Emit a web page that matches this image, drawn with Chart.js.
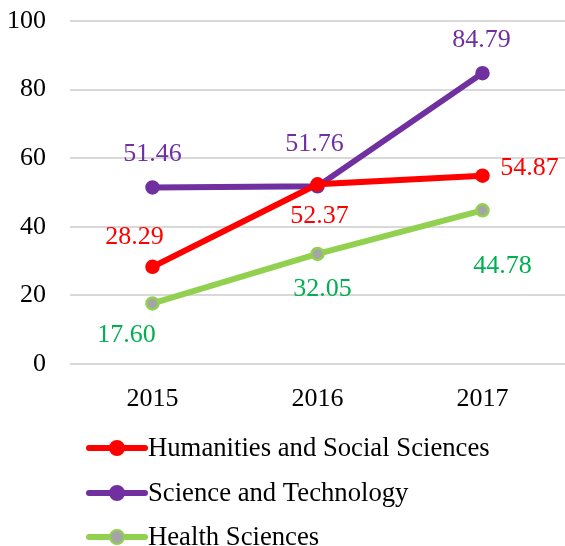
<!DOCTYPE html>
<html><head><meta charset="utf-8">
<script src="https://cdn.jsdelivr.net/npm/chart.js@4/dist/chart.umd.min.js"></script>
<style>html,body{margin:0;padding:0;background:#fff;}#wrap{width:565px;height:546px;}</style>
</head><body><div id="wrap"><canvas id="c" width="565" height="546"></canvas></div>
<script>
const categories = ["2015", "2016", "2017"];
const seriesNames = ["Humanities and Social Sciences", "Science and Technology", "Health Sciences"];
const humanities = [28.29, 52.37, 54.87];
const science = [51.46, 51.76, 84.79];
const health = [17.60, 32.05, 44.78];
const yTicks = [0, 20, 40, 60, 80, 100];

const FONT = "'Liberation Serif', 'Times New Roman', serif";
// label offsets (dx, dy) from each point, in pixels (style only)
const labelOffsets = [
  [[-18, -30], [2, 32], [47, -8]],
  [[0, -33], [-3, -42], [-1, -33]],
  [[-26, 32], [5, 35], [20, 56]]
];
const labelColors = ['#FF0000', '#7030A0', '#00B050'];

const labelPlugin = {
  id: 'labels',
  afterDatasetsDraw(chart) {
    const ctx = chart.ctx;
    ctx.save();
    ctx.font = '26px ' + FONT;
    ctx.textAlign = 'center';
    ctx.textBaseline = 'middle';
    chart.data.datasets.forEach((ds, i) => {
      const meta = chart.getDatasetMeta(i);
      meta.data.forEach((pt, j) => {
        const txt = ds.data[j].toFixed(2);
        const o = labelOffsets[i][j];
        ctx.fillStyle = labelColors[i];
        ctx.fillText(txt, pt.x + o[0], pt.y + o[1]);
      });
    });
    ctx.restore();
  }
};

const legendPlugin = {
  id: 'customLegend',
  afterDraw(chart) {
    const ctx = chart.ctx;
    ctx.save();
    const x0 = 89, x1 = 145, ys = [448, 493, 537];
    chart.data.datasets.forEach((ds, i) => {
      const y = ys[i];
      ctx.strokeStyle = ds.borderColor;
      ctx.lineWidth = 6;
      ctx.lineCap = 'round';
      ctx.beginPath(); ctx.moveTo(x0, y); ctx.lineTo(x1, y); ctx.stroke();
      ctx.beginPath(); ctx.arc((x0 + x1) / 2, y, 7, 0, Math.PI * 2);
      ctx.fillStyle = ds.pointBackgroundColor; ctx.fill();
      ctx.lineWidth = 2; ctx.strokeStyle = ds.pointBorderColor; ctx.stroke();
      ctx.fillStyle = '#000';
      ctx.font = '26.7px ' + FONT;
      ctx.textAlign = 'left'; ctx.textBaseline = 'middle';
      ctx.fillText(ds.label, 148, y + 1);
    });
    ctx.restore();
  }
};

new Chart(document.getElementById('c'), {
  type: 'line',
  data: {
    labels: categories,
    datasets: [
      { label: seriesNames[0], data: humanities, borderColor: '#FF0000', backgroundColor: '#FF0000',
        pointBackgroundColor: '#FF0000', pointBorderColor: '#FF0000' },
      { label: seriesNames[1], data: science, borderColor: '#7030A0', backgroundColor: '#7030A0',
        pointBackgroundColor: '#7030A0', pointBorderColor: '#7030A0' },
      { label: seriesNames[2], data: health, borderColor: '#92D050', backgroundColor: '#92D050',
        pointBackgroundColor: '#A5A5A5', pointBorderColor: '#92D050' }
    ].map(d => Object.assign(d, { borderWidth: 6, pointRadius: 6, pointBorderWidth: 2.5, tension: 0 }))
  },
  options: {
    responsive: false,
    animation: false,
    devicePixelRatio: 1,
    layout: { autoPadding: false, padding: { top: 21, right: 0, bottom: 119, left: 0 } },
    plugins: { legend: { display: false }, tooltip: { enabled: false } },
    scales: {
      x: {
        offset: true,
        grid: { display: false },
        border: { display: false },
        ticks: { color: '#000', font: { family: FONT, size: 26 }, padding: 12 }
      },
      y: {
        min: 0, max: 100,
        afterBuildTicks(axis) { axis.ticks = yTicks.map(v => ({ value: v })); },
        grid: { color: '#D9D9D9', lineWidth: 2, drawTicks: false },
        border: { display: false },
        ticks: { color: '#000', font: { family: FONT, size: 26 }, padding: 24 },
        afterFit(axis) { axis.width = 70; axis.paddingTop = 0; axis.paddingBottom = 0; }
      }
    }
  },
  plugins: [labelPlugin, legendPlugin]
});
</script>
</body></html>
